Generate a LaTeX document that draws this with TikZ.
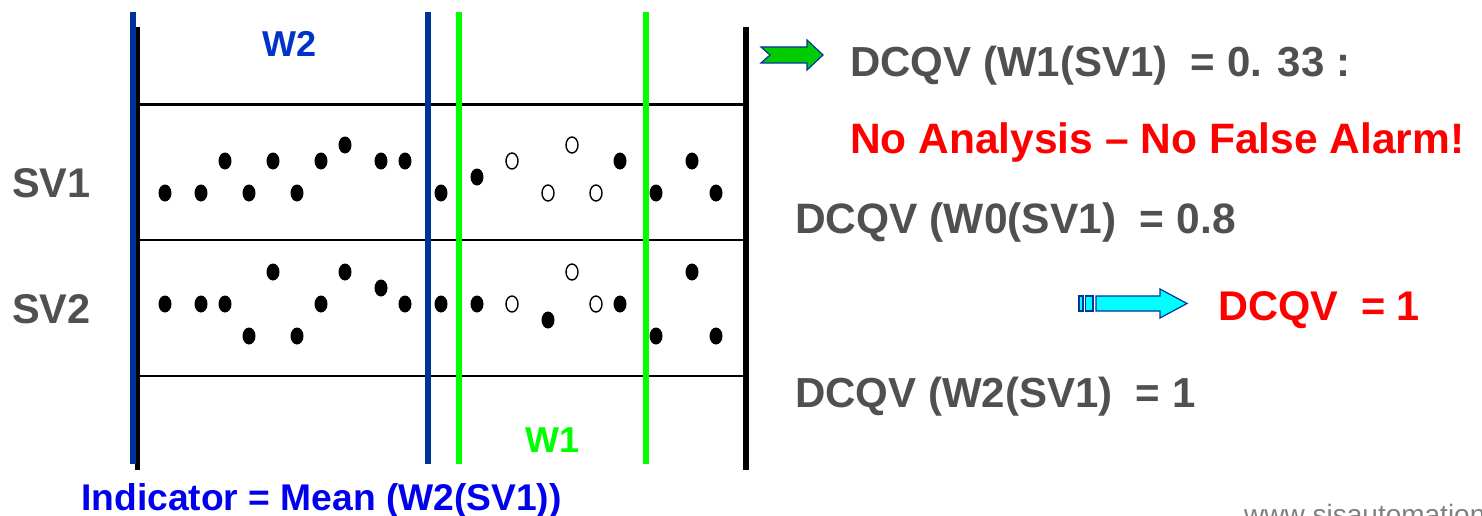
\documentclass[tikz,border=0pt]{standalone}
\usepackage{fontspec}
\setmainfont[Kerning=Off]{Liberation Sans}
\definecolor{txtgray}{RGB}{80,80,80}
\definecolor{lineblue}{RGB}{0,51,153}
\definecolor{lblblue}{RGB}{0,51,204}
\definecolor{indblue}{RGB}{0,0,238}
\definecolor{brightgreen}{RGB}{0,255,0}
\definecolor{arrgreen}{RGB}{0,204,0}
\definecolor{arrcyan}{RGB}{0,255,255}
\definecolor{arroutline}{RGB}{0,51,160}
\definecolor{wwwgray}{RGB}{128,128,128}
\tikzset{
  bigtxt/.style={font=\bfseries\fontsize{41.5}{50}\selectfont, anchor=base west, inner sep=0pt},
  graytxt/.style={bigtxt, text=txtgray},
  redtxt/.style={bigtxt, text=red},
  wlabel/.style={font=\bfseries\fontsize{36}{43}\selectfont, anchor=base west, inner sep=0pt},
  blueline/.style={draw=lineblue, line width=6pt},
  greenline/.style={draw=brightgreen, line width=6pt},
  frameline/.style={draw=black, line width=5pt},
  rowline/.style={draw=black, line width=2.5pt},
  blockarrow/.style={draw=arroutline, line width=1.2pt, line join=miter},
  fulldot/.style={fill=black},
  emptydot/.style={draw=black, line width=1.4pt, fill=white},
}
\begin{document}
\begin{tikzpicture}[x=1pt,y=-1pt]
\useasboundingbox (0,0) rectangle (1482,516);
\fill[white] (0,0) rectangle (1482,516);

% frame lines
\draw[frameline] (137.5,27) -- (137.5,470);
\draw[frameline, line width=6pt] (746,27) -- (746,470);
% row lines
\draw[rowline] (137,104.5) -- (746,104.5);
\draw[rowline] (137,240) -- (746,240);
\draw[rowline] (137,376) -- (746,376);
% window lines
\draw[blueline] (133,12) -- (133,464);
\draw[blueline] (428,12) -- (428,464);
\draw[greenline] (459,12) -- (459,464);
\draw[greenline] (645.5,12) -- (645.5,464);

% dots SV1
\foreach \x/\y in {165/193,201/193,225/161,249/193,273/161,297/193,321/161,345/145,381/161,405/161,441/193,477/177,620/161,656/193,692/161,716/193}
  \fill[fulldot] (\x,\y) ellipse [x radius=6.5pt, y radius=8.5pt];
\foreach \x/\y in {512/161,548/193,572/145,596/193}
  \draw[emptydot] (\x,\y) ellipse [x radius=6pt, y radius=8pt];
% dots SV2
\foreach \x/\y in {165/304,201/304,225/304,249/336,273/272,297/336,321/304,345/272,381/288,405/304,441/304,477/304,548/320,620/304,656/336,692/272,716/336}
  \fill[fulldot] (\x,\y) ellipse [x radius=6.5pt, y radius=8.5pt];
\foreach \x/\y in {512/304,572/272,596/304}
  \draw[emptydot] (\x,\y) ellipse [x radius=6pt, y radius=8pt];

% labels
\node[graytxt] (sv1) at (12,197) {SV1};
\node[graytxt] (sv2) at (12,323) {SV2};
\node[wlabel, text=lblblue] (w2) at (262,57) {W2};
\node[wlabel, text=brightgreen] (w1) at (525,452) {W1};
\node[font=\bfseries\fontsize{37.2}{45}\selectfont, anchor=base west, inner sep=0pt, text=indblue] (ind) at (81,510) {Indicator = Mean (W2(SV1))};

% green block arrow
\filldraw[blockarrow, fill=arrgreen] (761,47) -- (807,47) -- (807,40) -- (823,55) -- (807,70) -- (807,63) -- (761,63) -- (770,55) -- cycle;
% cyan block arrow
\filldraw[blockarrow, fill=arrcyan] (1079,296) rectangle (1083,311);
\filldraw[blockarrow, fill=arrcyan] (1085.5,296) rectangle (1093,311);
\filldraw[blockarrow, fill=arrcyan] (1096,296) -- (1160,296) -- (1160,289) -- (1187,303.5) -- (1160,318) -- (1160,311) -- (1096,311) -- cycle;

% right texts
\node[graytxt, font=\bfseries\fontsize{42}{50}\selectfont] (t1) at (850,77) {DCQV (W1(SV1)\ \ = 0. 33 :};
\node[redtxt, font=\bfseries\fontsize{42.5}{50}\selectfont] (t2) at (850,153.5) {No Analysis – No False Alarm!};
\node[graytxt, font=\bfseries\fontsize{42.5}{50}\selectfont] (t3) at (795,233) {DCQV (W0(SV1)\ \ = 0.8};
\node[redtxt] (t4) at (1218,320) {DCQV\ \ = 1};
\node[graytxt, font=\bfseries\fontsize{42}{50}\selectfont] (t5) at (795,407) {DCQV (W2(SV1)\ \ = 1};

\begin{scope}
\clip (0,0) rectangle (1482,516);
\node[font=\fontsize{28}{34}\selectfont, anchor=base west, inner sep=0pt, text=wwwgray] (www) at (1244,524.5) {www.sisautomation.com};
\end{scope}
\end{tikzpicture}
\end{document}
